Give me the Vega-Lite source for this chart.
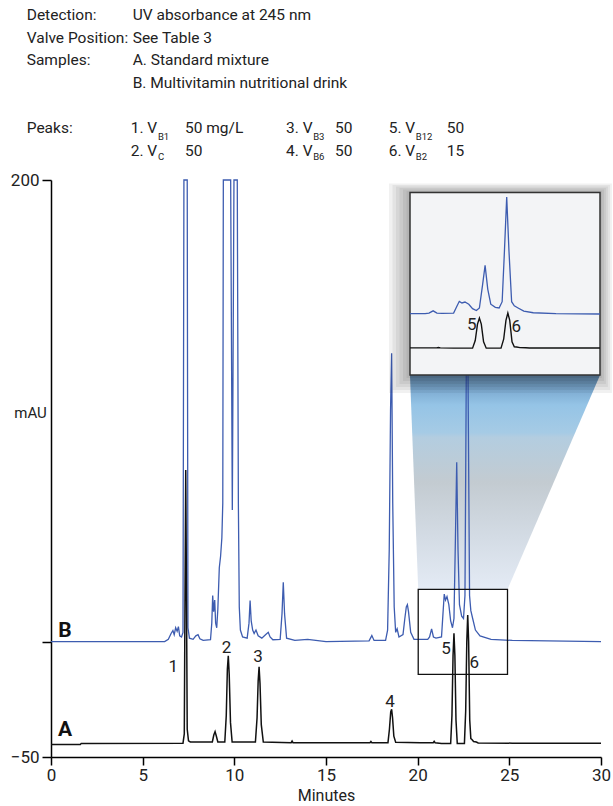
{
  "$schema": "https://vega.github.io/schema/vega-lite/v6.json",
  "width": 550,
  "height": 577,
  "autosize": {"type": "none"},
  "padding": {"left": 51, "top": 180, "right": 12, "bottom": 49},
  "background": "white",
  "config": {
    "view": {"stroke": null},
    "font": "Roboto, Liberation Sans, sans-serif",
    "axis": {"grid": false, "domainColor": "#000", "tickColor": "#000", "labelColor": "#222", "titleColor": "#222", "domainWidth": 1.5, "tickWidth": 1.5}
  },
  "datasets": {
    "traces": [
      {"s":"A","t":0,"v":-44.6},{"s":"A","t":1.6,"v":-44.6},{"s":"A","t":1.65,"v":-44.1},{"s":"A","t":7.2,"v":-44},{"s":"A","t":7.27,"v":-40},{"s":"A","t":7.31,"v":20},{"s":"A","t":7.35,"v":74.4},{"s":"A","t":7.39,"v":20},{"s":"A","t":7.43,"v":-38},{"s":"A","t":7.5,"v":-43},{"s":"A","t":7.6,"v":-43.5},{"s":"A","t":8.8,"v":-43.5},{"s":"A","t":8.88,"v":-40.5},{"s":"A","t":8.95,"v":-39},{"s":"A","t":9.02,"v":-41},{"s":"A","t":9.1,"v":-43.5},{"s":"A","t":9.48,"v":-43.5},{"s":"A","t":9.56,"v":-32},{"s":"A","t":9.62,"v":-12},{"s":"A","t":9.67,"v":-6.1},{"s":"A","t":9.72,"v":-14},{"s":"A","t":9.79,"v":-35},{"s":"A","t":9.88,"v":-43.5},{"s":"A","t":11.15,"v":-43.5},{"s":"A","t":11.24,"v":-33},{"s":"A","t":11.3,"v":-17},{"s":"A","t":11.35,"v":-10.9},{"s":"A","t":11.4,"v":-18},{"s":"A","t":11.47,"v":-36},{"s":"A","t":11.58,"v":-43.5},{"s":"A","t":13.1,"v":-43.8},{"s":"A","t":13.15,"v":-43.1},{"s":"A","t":13.2,"v":-43.8},{"s":"A","t":17.4,"v":-43.8},{"s":"A","t":17.45,"v":-43.3},{"s":"A","t":17.5,"v":-43.8},{"s":"A","t":18.38,"v":-43.8},{"s":"A","t":18.46,"v":-38},{"s":"A","t":18.53,"v":-30.5},{"s":"A","t":18.58,"v":-29.3},{"s":"A","t":18.63,"v":-33},{"s":"A","t":18.7,"v":-41},{"s":"A","t":18.8,"v":-43.6},{"s":"A","t":20.15,"v":-43.8},{"s":"A","t":20.85,"v":-43.8},{"s":"A","t":20.9,"v":-43.2},{"s":"A","t":20.95,"v":-43.8},{"s":"A","t":21.3,"v":-44.2},{"s":"A","t":21.8,"v":-44.2},{"s":"A","t":21.87,"v":-32},{"s":"A","t":21.93,"v":-6},{"s":"A","t":21.98,"v":3.6},{"s":"A","t":22.03,"v":-6},{"s":"A","t":22.09,"v":-34},{"s":"A","t":22.16,"v":-44.2},{"s":"A","t":22.55,"v":-44.2},{"s":"A","t":22.62,"v":-30},{"s":"A","t":22.68,"v":0},{"s":"A","t":22.73,"v":11.5},{"s":"A","t":22.78,"v":0},{"s":"A","t":22.84,"v":-34},{"s":"A","t":22.9,"v":-42},{"s":"A","t":22.96,"v":-42.4},{"s":"A","t":23.05,"v":-43.3},{"s":"A","t":23.2,"v":-43.5},{"s":"A","t":23.3,"v":-43.9},{"s":"A","t":25.16,"v":-44},{"s":"A","t":30,"v":-44},
      {"s":"B","t":0,"v":0},{"s":"B","t":6.2,"v":0},{"s":"B","t":6.4,"v":1},{"s":"B","t":6.55,"v":3.5},{"s":"B","t":6.65,"v":4.8},{"s":"B","t":6.72,"v":3},{"s":"B","t":6.8,"v":6},{"s":"B","t":6.88,"v":4.5},{"s":"B","t":6.95,"v":6.5},{"s":"B","t":7.02,"v":2.5},{"s":"B","t":7.12,"v":2},{"s":"B","t":7.2,"v":4},{"s":"B","t":7.25,"v":200},{"s":"B","t":7.43,"v":200},{"s":"B","t":7.47,"v":6},{"s":"B","t":7.55,"v":1.5},{"s":"B","t":7.75,"v":1},{"s":"B","t":7.9,"v":2.5},{"s":"B","t":8.02,"v":3},{"s":"B","t":8.12,"v":1.2},{"s":"B","t":8.3,"v":0.5},{"s":"B","t":8.7,"v":0.8},{"s":"B","t":8.77,"v":8},{"s":"B","t":8.82,"v":20},{"s":"B","t":8.87,"v":13},{"s":"B","t":8.93,"v":18},{"s":"B","t":8.98,"v":8},{"s":"B","t":9.04,"v":6},{"s":"B","t":9.1,"v":14},{"s":"B","t":9.18,"v":32},{"s":"B","t":9.25,"v":37},{"s":"B","t":9.32,"v":45},{"s":"B","t":9.37,"v":60},{"s":"B","t":9.4,"v":200},{"s":"B","t":9.8,"v":200},{"s":"B","t":9.89,"v":57},{"s":"B","t":9.98,"v":200},{"s":"B","t":10.16,"v":200},{"s":"B","t":10.22,"v":60},{"s":"B","t":10.27,"v":15},{"s":"B","t":10.33,"v":5},{"s":"B","t":10.45,"v":2},{"s":"B","t":10.7,"v":1.5},{"s":"B","t":10.8,"v":8},{"s":"B","t":10.86,"v":17.8},{"s":"B","t":10.92,"v":9},{"s":"B","t":11.0,"v":5},{"s":"B","t":11.08,"v":3.5},{"s":"B","t":11.18,"v":5},{"s":"B","t":11.3,"v":2.5},{"s":"B","t":11.5,"v":1.5},{"s":"B","t":11.7,"v":3},{"s":"B","t":11.85,"v":4},{"s":"B","t":11.95,"v":2},{"s":"B","t":12.1,"v":0.8},{"s":"B","t":12.5,"v":1},{"s":"B","t":12.6,"v":12},{"s":"B","t":12.67,"v":25.7},{"s":"B","t":12.74,"v":12},{"s":"B","t":12.85,"v":1.5},{"s":"B","t":13.3,"v":0.5},{"s":"B","t":14,"v":1},{"s":"B","t":15,"v":0},{"s":"B","t":17.35,"v":0.3},{"s":"B","t":17.5,"v":2.6},{"s":"B","t":17.62,"v":0.5},{"s":"B","t":18.25,"v":0.5},{"s":"B","t":18.36,"v":5},{"s":"B","t":18.45,"v":40},{"s":"B","t":18.52,"v":100},{"s":"B","t":18.58,"v":124.9},{"s":"B","t":18.64,"v":60},{"s":"B","t":18.72,"v":15},{"s":"B","t":18.8,"v":4},{"s":"B","t":18.88,"v":5.5},{"s":"B","t":18.98,"v":2},{"s":"B","t":19.2,"v":3},{"s":"B","t":19.3,"v":10},{"s":"B","t":19.38,"v":15},{"s":"B","t":19.44,"v":16},{"s":"B","t":19.5,"v":13},{"s":"B","t":19.62,"v":4},{"s":"B","t":19.8,"v":1},{"s":"B","t":20.15,"v":1},{"s":"B","t":20.55,"v":1},{"s":"B","t":20.65,"v":2},{"s":"B","t":20.76,"v":5.5},{"s":"B","t":20.86,"v":2},{"s":"B","t":21.0,"v":1.5},{"s":"B","t":21.3,"v":2},{"s":"B","t":21.38,"v":12},{"s":"B","t":21.45,"v":20.6},{"s":"B","t":21.52,"v":18},{"s":"B","t":21.6,"v":19.5},{"s":"B","t":21.7,"v":16},{"s":"B","t":21.8,"v":9},{"s":"B","t":21.9,"v":6},{"s":"B","t":21.98,"v":10},{"s":"B","t":22.06,"v":45},{"s":"B","t":22.13,"v":77.7},{"s":"B","t":22.2,"v":40},{"s":"B","t":22.28,"v":16},{"s":"B","t":22.4,"v":11},{"s":"B","t":22.5,"v":10},{"s":"B","t":22.58,"v":20},{"s":"B","t":22.64,"v":100},{"s":"B","t":22.7,"v":186},{"s":"B","t":22.76,"v":100},{"s":"B","t":22.83,"v":20},{"s":"B","t":22.9,"v":13.4},{"s":"B","t":23.0,"v":10},{"s":"B","t":23.15,"v":5},{"s":"B","t":23.4,"v":2.5},{"s":"B","t":24,"v":1},{"s":"B","t":25.16,"v":0.5},{"s":"B","t":30,"v":0}
    ],
    "header": [
      {"t":-1.325,"v":271.5,"label":"Detection:","kind":"main"},
      {"t":4.456,"v":271.5,"label":"UV absorbance at 245 nm","kind":"main"},
      {"t":-1.325,"v":261.65,"label":"Valve Position:","kind":"main"},
      {"t":4.456,"v":261.65,"label":"See Table 3","kind":"main"},
      {"t":-1.325,"v":252.0,"label":"Samples:","kind":"main"},
      {"t":4.456,"v":252.0,"label":"A. Standard mixture","kind":"main"},
      {"t":4.456,"v":242.16,"label":"B. Multivitamin nutritional drink","kind":"main"},
      {"t":-1.325,"v":222.4,"label":"Peaks:","kind":"main"},
      {"t":4.347,"v":222.4,"label":"1. V","kind":"main"},
      {"t":7.309,"v":222.4,"label":"50 mg/L","kind":"main"},
      {"t":12.818,"v":222.4,"label":"3. V","kind":"main"},
      {"t":15.491,"v":222.4,"label":"50","kind":"main"},
      {"t":18.42,"v":222.4,"label":"5. V","kind":"main"},
      {"t":21.584,"v":222.4,"label":"50","kind":"main"},
      {"t":4.347,"v":212.7,"label":"2. V","kind":"main"},
      {"t":7.309,"v":212.7,"label":"50","kind":"main"},
      {"t":12.818,"v":212.7,"label":"4. V","kind":"main"},
      {"t":15.491,"v":212.7,"label":"50","kind":"main"},
      {"t":18.42,"v":212.7,"label":"6. V","kind":"main"},
      {"t":21.584,"v":212.7,"label":"15","kind":"main"},
      {"t":5.83,"v":218.76,"label":"B1","kind":"sub"},
      {"t":5.83,"v":210.1,"label":"C","kind":"sub"},
      {"t":14.3,"v":218.76,"label":"B3","kind":"sub"},
      {"t":14.3,"v":210.1,"label":"B6","kind":"sub"},
      {"t":19.9,"v":218.76,"label":"B12","kind":"sub"},
      {"t":19.9,"v":210.1,"label":"B2","kind":"sub"}
    ],
    "peaklabels": [
      {"t":6.67,"v":-10.9,"label":"1"},
      {"t":9.58,"v":-2.8,"label":"2"},
      {"t":11.29,"v":-6.7,"label":"3"},
      {"t":18.49,"v":-26.0,"label":"4"},
      {"t":21.55,"v":-3.3,"label":"5"},
      {"t":23.09,"v":-9.1,"label":"6"}
    ],
    "samplelabels": [
      {"t":0.76,"v":4.6,"label":"B"},
      {"t":0.76,"v":-38.3,"label":"A"}
    ],
    "beam": [
      {"v":115.5,"t":19.58,"t2":29.95},
      {"v":22.6,"t":20.03,"t2":24.9}
    ],
    "zoombox": [
      {"t":20.03,"t2":24.9,"v":-14.2,"v2":22.6}
    ],
    "shadow": [
      {"t":20.0577,"t2":25.2127,"v":-101.06,"v2":195.68},
      {"t":19.9654,"t2":25.2655,"v":-105.82,"v2":198.06},
      {"t":19.8731,"t2":25.3182,"v":-110.58,"v2":200.44},
      {"t":19.7809,"t2":25.3709,"v":-115.34,"v2":202.82},
      {"t":19.6886,"t2":25.4237,"v":-120.10,"v2":205.20},
      {"t":19.5963,"t2":25.4764,"v":-124.86,"v2":207.58}
    ],
    "insetbox": [
      {"t":20.15,"t2":25.16,"v":-96.3,"v2":193.3}
    ],
    "insetlabels": [
      {"t":21.78,"v":-17.0,"label":"5"},
      {"t":22.95,"v":-19.7,"label":"6"}
    ]
  },
  "layer": [
    {
      "encoding": {
        "x": {"field": "t", "type": "quantitative",
          "scale": {"domain": [0, 30], "nice": false, "zero": false},
          "axis": {"values": [0, 5, 10, 15, 20, 25, 30], "title": "Minutes", "tickSize": 8, "labelPadding": 2, "labelFontSize": 17, "titleFontSize": 16, "titleFontWeight": "normal", "titlePadding": 4, "labelFlush": false, "labelOverlap": false}},
        "y": {"field": "v", "type": "quantitative",
          "scale": {"domain": [-50, 200], "nice": false, "zero": false},
          "axis": {"values": [-50, 0, 200], "title": "mAU", "tickSize": 9, "labelPadding": 3, "labelFontSize": 17, "labelExpr": "datum.value == 0 ? '' : (datum.value < 0 ? '\u2212' + abs(datum.value) : datum.label)", "labelFlush": false, "labelOverlap": false, "titleAngle": 0, "titleX": -21, "titleY": 232, "titleAlign": "center", "titleBaseline": "middle", "titleFontSize": 15, "titleFontWeight": "normal"}}
      },
      "layer": [
        {
          "data": {"name": "beam"},
          "mark": {"type": "area", "orient": "horizontal",
            "color": {"gradient": "linear", "x1": 0, "y1": 0, "x2": 0, "y2": 1,
              "stops": [
                {"offset": 0, "color": "#6a93b8"},
                {"offset": 0.06, "color": "#7aa8cf"},
                {"offset": 0.14, "color": "#95c4e6"},
                {"offset": 0.27, "color": "#a6cbe5"},
                {"offset": 0.29, "color": "#b3cde0"},
                {"offset": 0.5, "color": "#c3cbd1"},
                {"offset": 0.75, "color": "#d3dbe4"},
                {"offset": 1, "color": "#e4ebf5"}
              ]}},
          "encoding": {"x2": {"field": "t2"}}
        },
        {
          "data": {"name": "traces"},
          "transform": [{"filter": "datum.s == 'B'"}],
          "mark": {"type": "line", "color": "#3d5cb0", "strokeWidth": 1.3}
        },
        {
          "data": {"name": "traces"},
          "transform": [{"filter": "datum.s == 'A'"}],
          "mark": {"type": "line", "color": "#111111", "strokeWidth": 1.5}
        },
        {
          "data": {"name": "zoombox"},
          "mark": {"type": "rect", "fill": null, "fillOpacity": 0, "stroke": "#111", "strokeWidth": 1.3},
          "encoding": {"x2": {"field": "t2"}, "y2": {"field": "v2"}}
        },
        {
          "data": {"name": "peaklabels"},
          "mark": {"type": "text", "fontSize": 17, "color": "#222", "align": "center", "baseline": "middle"},
          "encoding": {"text": {"field": "label"}}
        },
        {
          "data": {"name": "samplelabels"},
          "mark": {"type": "text", "fontSize": 21, "fontWeight": "bold", "color": "#111", "align": "center", "baseline": "middle"},
          "encoding": {"text": {"field": "label"}}
        },
        {
          "data": {"name": "header"},
          "transform": [{"filter": "datum.kind == 'main'"}],
          "mark": {"type": "text", "fontSize": 15.5, "color": "#222", "align": "left", "baseline": "middle"},
          "encoding": {"text": {"field": "label"}}
        },
        {
          "data": {"name": "header"},
          "transform": [{"filter": "datum.kind == 'sub'"}],
          "mark": {"type": "text", "fontSize": 9.5, "color": "#222", "align": "left", "baseline": "middle"},
          "encoding": {"text": {"field": "label"}}
        }
      ]
    },
    {
      "encoding": {
        "x": {"field": "t", "type": "quantitative",
          "scale": {"domain": [20.15, 25.16], "range": [359, 549], "nice": false, "zero": false},
          "axis": null},
        "y": {"field": "v", "type": "quantitative",
          "scale": {"domain": [-96.3, 193.3], "range": [195, 12.5], "nice": false, "zero": false},
          "axis": null}
      },
      "layer": [
        {
          "data": {"name": "shadow"},
          "mark": {"type": "rect", "color": "#000000", "opacity": 0.055},
          "encoding": {"x2": {"field": "t2"}, "y2": {"field": "v2"}}
        },
        {
          "data": {"name": "insetbox"},
          "mark": {"type": "rect", "fill": "#f3f4f6", "stroke": "#333333", "strokeWidth": 1.5},
          "encoding": {"x2": {"field": "t2"}, "y2": {"field": "v2"}}
        },
        {
          "data": {"name": "traces"},
          "transform": [{"filter": "datum.s == 'B' && datum.t >= 20.15 && datum.t <= 25.16"}],
          "mark": {"type": "line", "color": "#3d5cb0", "strokeWidth": 1.3}
        },
        {
          "data": {"name": "traces"},
          "transform": [{"filter": "datum.s == 'A' && datum.t >= 20.15 && datum.t <= 25.16"}],
          "mark": {"type": "line", "color": "#111111", "strokeWidth": 1.4, "yOffset": 6}
        },
        {
          "data": {"name": "insetlabels"},
          "mark": {"type": "text", "fontSize": 17, "color": "#222", "align": "center", "baseline": "middle"},
          "encoding": {"text": {"field": "label"}}
        }
      ]
    }
  ],
  "resolve": {"scale": {"x": "independent", "y": "independent"}}
}
